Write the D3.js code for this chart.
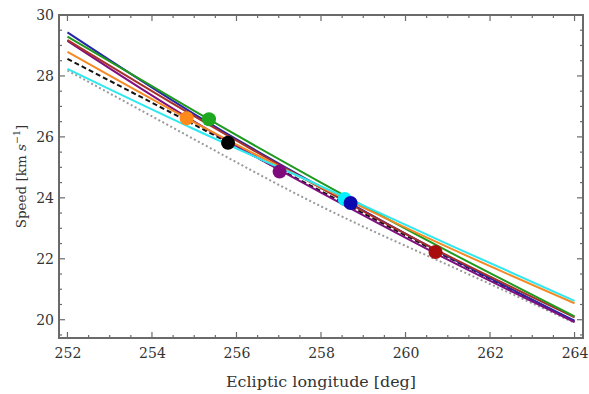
<!DOCTYPE html>
<html><head><meta charset="utf-8">
<script src="https://cdn.jsdelivr.net/npm/d3@7"></script>
<style>body{margin:0;background:#fff}svg{display:block}</style>
</head><body>
<svg id="c" width="589" height="394"></svg>
<script>
// ---- data ----
const lonGrid = [252, 255, 258, 261, 264];
const seriesNames = ["gray", "black", "blue", "purple", "red", "green", "orange", "cyan"];
const grayVals   = [28.18, 25.92, 23.72, 21.80, 19.90];
const blackVals  = [28.56, 26.40, 24.22, 22.05, 19.94];
const blueVals   = [29.43, 26.75, 24.35, 22.08, 19.97];
const purpleVals = [29.15, 26.50, 24.17, 21.97, 19.92];
const redVals    = [29.18, 26.68, 24.32, 22.10, 20.08];
const greenVals  = [29.29, 26.85, 24.50, 22.25, 20.11];
const orangeVals = [28.79, 26.48, 24.35, 22.38, 20.54];
const cyanVals   = [28.23, 26.25, 24.38, 22.48, 20.62];
const markerNames = ["orange", "green", "black", "purple", "cyan", "blue", "red"];
const markerLon   = [254.82, 255.35, 255.80, 257.02, 258.56, 258.70, 260.71];
const markerSpeed = [26.61, 26.58, 25.81, 24.86, 23.96, 23.83, 22.22];
const xTicks = [252, 254, 256, 258, 260, 262, 264];
const yTicks = [20, 22, 24, 26, 28, 30];

// ---- styles ----
const lineColor = {gray:"#9a9a9a", black:"#111", blue:"#2626a6", red:"#a8302a", green:"#1f9a1f",
  purple:"#80107f", orange:"#f58a25", cyan:"#2ee8f0"};
const markerColor = {orange:"#ff8a1c", green:"#1fa81f", black:"#000", purple:"#7e0a7e",
  cyan:"#00f0ff", blue:"#0a0ab0", red:"#a80c0c"};
const vals = {gray:grayVals, black:blackVals, blue:blueVals, red:redVals, green:greenVals,
  purple:purpleVals, orange:orangeVals, cyan:cyanVals};
const FONT = "'DejaVu Serif', serif";

const svg = d3.select("#c");
const L = 59, R = 583, T = 15, B = 338;
const x = d3.scaleLinear().domain([251.8, 264.2]).range([L, R]);
const y = d3.scaleLinear().domain([19.4, 30]).range([B, T]);

const plot = svg.append("g");
plot.append("defs").append("clipPath").attr("id","clip")
  .append("rect").attr("x",L).attr("y",T).attr("width",R-L).attr("height",B-T);

const line = d3.line().x(d=>x(d[0])).y(d=>y(d[1])).curve(d3.curveNatural);
const lg = plot.append("g").attr("clip-path","url(#clip)");
seriesNames.forEach(n=>{
  const p = lg.append("path").datum(lonGrid.map((g,i)=>[g, vals[n][i]]))
    .attr("d", line).attr("fill","none").attr("stroke", lineColor[n])
    .attr("stroke-width", 2);
  if (n==="black") p.attr("stroke-dasharray","5,3");
  if (n==="gray") p.attr("stroke-dasharray","2,2.5");
});
lg.selectAll("circle").data(markerNames).enter().append("circle")
  .attr("cx",(d,i)=>x(markerLon[i])).attr("cy",(d,i)=>y(markerSpeed[i]))
  .attr("r",7).attr("fill",d=>markerColor[d]);

// ---- frame & ticks ----
const frameCol = "#6a6a6a";
const xMinor = d3.range(252, 264.01, 0.5), yMinor = d3.range(19.5, 30.01, 0.5);
const axB = d3.axisBottom(x).tickValues(xTicks).tickSize(0).tickPadding(10).tickFormat(d3.format("d"));
const axL = d3.axisLeft(y).tickValues(yTicks).tickSize(0).tickPadding(5).tickFormat(d3.format("d"));
const gB = svg.append("g").attr("transform",`translate(0,${B})`).call(axB);
const gL = svg.append("g").attr("transform",`translate(${L},0)`).call(axL);
[gB,gL].forEach(g=>{g.select(".domain").remove();
  g.selectAll("text").attr("font-family",FONT).attr("font-size",14).attr("fill","#333");});

const tk = svg.append("g").attr("stroke",frameCol).attr("stroke-width",1.2);
xMinor.forEach(v=>{
  const major = xTicks.includes(v), len = major ? 6 : 3;
  tk.append("line").attr("x1",x(v)).attr("x2",x(v)).attr("y1",B).attr("y2",B-len);
  tk.append("line").attr("x1",x(v)).attr("x2",x(v)).attr("y1",T).attr("y2",T+len);
});
yMinor.forEach(v=>{
  const major = yTicks.includes(v), len = major ? 6 : 3;
  tk.append("line").attr("y1",y(v)).attr("y2",y(v)).attr("x1",L).attr("x2",L+len);
  tk.append("line").attr("y1",y(v)).attr("y2",y(v)).attr("x1",R).attr("x2",R-len);
});
svg.append("rect").attr("x",L).attr("y",T).attr("width",R-L).attr("height",B-T)
  .attr("fill","none").attr("stroke",frameCol).attr("stroke-width",2);

// ---- titles ----
svg.append("text").attr("x",(L+R)/2).attr("y",387).attr("text-anchor","middle")
  .attr("font-family",FONT).attr("font-size",15).attr("fill","#333")
  .attr("textLength",190).attr("lengthAdjust","spacingAndGlyphs")
  .text("Ecliptic longitude [deg]");
const yt = svg.append("text").attr("transform",`translate(26,${(T+B)/2}) rotate(-90)`)
  .attr("text-anchor","middle").attr("font-family",FONT)
  .attr("font-size",13.5).attr("fill","#333");
yt.append("tspan").text("Speed [km ");
yt.append("tspan").attr("font-style","italic").text("s");
yt.append("tspan").attr("font-size",9.5).attr("dy",-6).text("−1");
yt.append("tspan").attr("dy",6).text("]");
</script>
</body></html>
